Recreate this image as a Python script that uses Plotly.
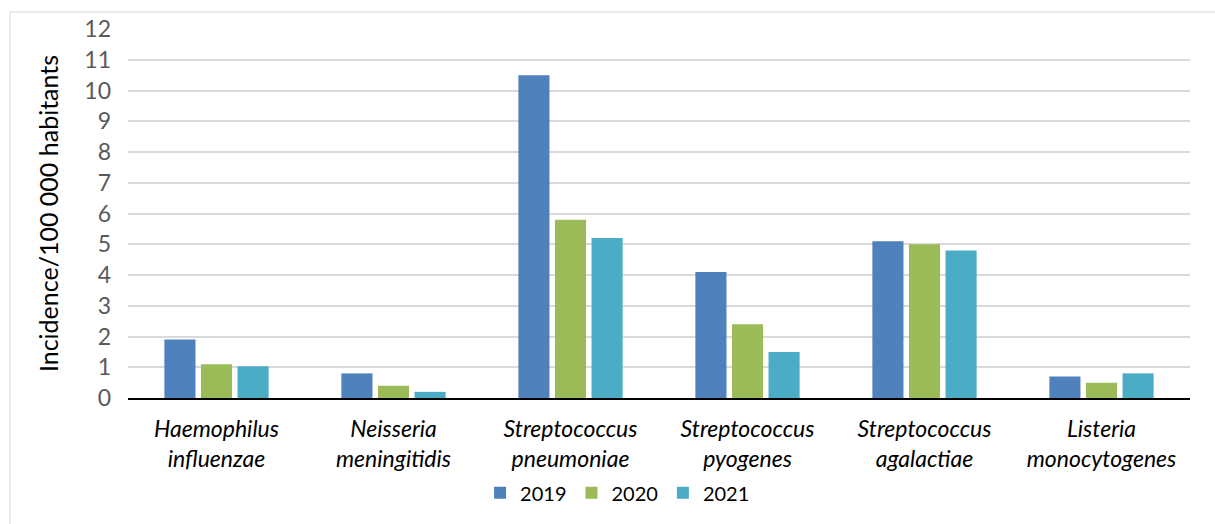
import plotly.graph_objects as go

categories = [
    "Haemophilus<br>influenzae",
    "Neisseria<br>meningitidis",
    "Streptococcus<br>pneumoniae",
    "Streptococcus<br>pyogenes",
    "Streptococcus<br>agalactiae",
    "Listeria<br>monocytogenes",
]
years = ["2019", "2020", "2021"]
values_2019 = [1.9, 0.8, 10.5, 4.1, 5.1, 0.7]
values_2020 = [1.1, 0.4, 5.8, 2.4, 5.0, 0.5]
values_2021 = [1.03, 0.2, 5.2, 1.5, 4.8, 0.8]
colors = ["#4F81BD", "#9BBB59", "#4BACC6"]
y_ticks = list(range(0, 13))

FONT = "Lato, 'Open Sans', sans-serif"

fig = go.Figure()
for name, vals, col in zip(years, [values_2019, values_2020, values_2021], colors):
    fig.add_trace(go.Bar(x=categories, y=vals, name=name,
                         marker=dict(color=col, line=dict(width=0))))

fig.update_layout(
    width=1215, height=524,
    margin=dict(l=128, r=25, t=29, b=126),
    paper_bgcolor="white", plot_bgcolor="white",
    barmode="group", bargap=0.38, bargroupgap=0.15,
    font=dict(family=FONT, color="#000000"),
    showlegend=True,
    legend=dict(orientation="h", x=0.461, xanchor="center", y=-0.257, yanchor="middle",
                font=dict(size=20, color="#000000"), itemwidth=30,
                traceorder="normal"),
    shapes=[dict(type="rect", xref="paper", yref="paper",
                 x0=-0.1111, x1=1.05, y0=-0.45, y1=1.046,
                 line=dict(color="#D9D9D9", width=1), fillcolor="rgba(0,0,0,0)",
                 layer="below")],
)
fig.update_yaxes(
    range=[0, 12], tickvals=y_ticks, ticktext=[str(t) for t in y_ticks],
    showgrid=True, gridcolor="#D9D9D9", gridwidth=1.5, zeroline=False,
    tickfont=dict(size=23, color="#595959", family=FONT),
    ticklabelstandoff=16,
    title=dict(text="Incidence/100 000 habitants", font=dict(size=25, color="#000000"),
               standoff=18),
)
fig.update_xaxes(
    showline=True, linecolor="#000000", linewidth=2,
    tickfont=dict(size=23, color="#000000", family=FONT, style="italic"),
    ticklabelstandoff=9,
)

fig.write_html("out.html")
